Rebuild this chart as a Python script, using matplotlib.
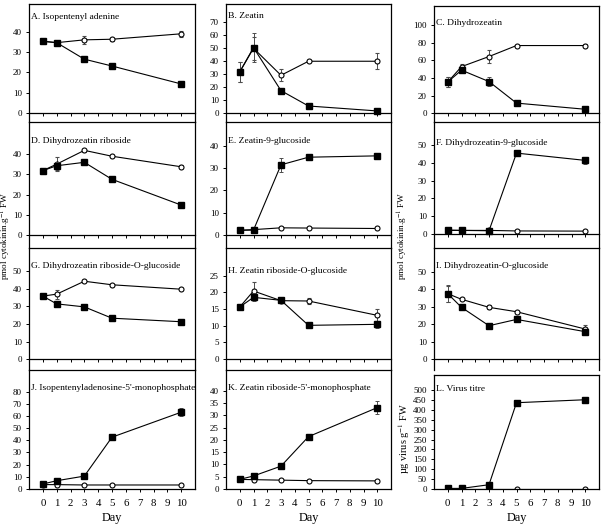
import matplotlib
matplotlib.use("Agg")
import matplotlib.pyplot as plt
import numpy as np

plt.rcParams['font.family'] = ['Liberation Serif', 'DejaVu Serif']
plt.rcParams['mathtext.fontset'] = 'stix'

# --- data (filled squares = infected, open circles = control) ---
days = [0, 1, 3, 5, 10]

a_inf = [35.5, 34.8, 26.6, 23.2, 14.3]
a_inf_err = [0.8, 0.8, 0.8, 1.2, 1.0]
a_ctl = [35.5, 34.8, 36.2, 36.5, 39.2]
a_ctl_err = [0.5, 1.0, 2.0, 0.8, 1.6]

b_inf = [31.8, 50.5, 17.4, 5.6, 1.8]
b_inf_err = [8.0, 11.0, 1.0, 1.8, 0.8]
b_ctl = [31.8, 50.0, 29.2, 40.0, 40.0]
b_ctl_err = [8.0, 9.0, 4.5, 0.8, 6.2]

c_inf = [35.5, 49.0, 36.0, 11.5, 4.5]
c_inf_err = [6.0, 3.0, 5.0, 1.0, 1.0]
c_ctl = [35.5, 53.0, 64.5, 77.0, 77.0]
c_ctl_err = [6.0, 3.0, 7.0, 1.0, 2.0]

d_inf = [31.8, 34.2, 35.9, 27.5, 14.8]
d_inf_err = [1.0, 2.0, 0.8, 0.8, 1.0]
d_ctl = [31.8, 35.0, 41.8, 38.9, 33.7]
d_ctl_err = [0.8, 3.5, 0.8, 0.6, 0.8]

e_inf = [2.2, 2.3, 31.4, 34.8, 35.4]
e_inf_err = [0.4, 0.4, 3.0, 0.6, 0.6]
e_ctl = [2.2, 2.5, 3.3, 3.2, 3.0]
e_ctl_err = [0.2, 0.2, 0.2, 0.2, 0.2]

f_inf = [2.2, 2.0, 1.8, 45.5, 41.4]
f_inf_err = [0.3, 0.3, 0.3, 0.8, 2.0]
f_ctl = [2.0, 2.0, 2.0, 1.7, 1.6]
f_ctl_err = [0.2, 0.2, 0.2, 0.2, 0.2]

g_inf = [35.8, 31.4, 29.7, 23.3, 21.3]
g_inf_err = [0.6, 0.8, 0.8, 0.8, 0.6]
g_ctl = [35.8, 36.9, 44.2, 42.2, 39.7]
g_ctl_err = [0.5, 2.5, 0.6, 0.6, 0.6]

h_inf = [15.6, 18.5, 17.6, 10.1, 10.4]
h_inf_err = [0.3, 1.2, 0.3, 0.6, 1.0]
h_ctl = [15.6, 20.4, 17.5, 17.4, 13.1]
h_ctl_err = [0.3, 2.8, 0.3, 0.9, 1.8]

i_inf = [37.5, 29.7, 19.2, 22.8, 15.8]
i_inf_err = [5.0, 1.0, 0.6, 0.6, 1.0]
i_ctl = [37.5, 34.3, 29.7, 27.2, 17.3]
i_ctl_err = [4.5, 0.6, 1.2, 0.6, 2.5]

j_inf = [4.1, 6.8, 10.6, 42.6, 63.1]
j_inf_err = [0.5, 0.6, 1.0, 2.5, 3.5]
j_ctl = [3.6, 3.6, 3.3, 3.3, 3.3]
j_ctl_err = [0.3, 0.3, 0.3, 0.3, 0.3]

k_inf = [3.9, 5.3, 9.3, 21.3, 33.1]
k_inf_err = [0.3, 0.5, 0.4, 0.5, 2.5]
k_ctl = [3.9, 3.8, 3.6, 3.4, 3.3]
k_ctl_err = [0.2, 0.2, 0.2, 0.2, 0.2]

l_inf = [3.0, 3.0, 21.6, 436.0, 451.0]
l_inf_err = [1.0, 1.0, 3.0, 6.0, 8.0]
l_ctl = [1.0, 1.0, 1.0, 1.0, 1.0]
l_ctl_err = [0.0, 0.0, 0.0, 0.0, 0.0]

titles = [
    "A. Isopentenyl adenine", "B. Zeatin", "C. Dihydrozeatin",
    "D. Dihydrozeatin riboside", "E. Zeatin-9-glucoside", "F. Dihydrozeatin-9-glucoside",
    "G. Dihydrozeatin riboside-O-glucoside", "H. Zeatin riboside-O-glucoside",
    "I. Dihydrozeatin-O-glucoside",
    "J. Isopentenyladenosine-5'-monophosphate", "K. Zeatin riboside-5'-monophosphate",
    "L. Virus titre",
]

# --- layout (pixel boxes on a 605x527 canvas) ---
W, H = 605, 527
cols = [(29, 195), (226, 391), (434, 599)]
rows = [(4, 122), (122, 248), (248, 370), (370, 489)]

# per panel: ylim, tick max, tick step, title height (axes fraction)
panel_fmt = [
    ((-4.6, 54), 40, 10, 0.89), ((-6.7, 84), 70, 10, 0.90), ((-10, 122), 100, 20, 0.85),
    ((-6.4, 55.8), 40, 10, 0.85), ((-5.7, 50.5), 40, 10, 0.85), ((-7.9, 63), 50, 10, 0.83),
    ((-6.0, 63), 50, 10, 0.85), ((-3.3, 33.3), 25, 5, 0.81), ((-6.1, 63.6), 50, 10, 0.85),
    ((0, 97.8), 80, 10, 0.85), ((0, 48.4), 40, 5, 0.85), ((0, 576), 500, 50, 0.88),
]

series = [
    (a_inf, a_inf_err, a_ctl, a_ctl_err), (b_inf, b_inf_err, b_ctl, b_ctl_err),
    (c_inf, c_inf_err, c_ctl, c_ctl_err), (d_inf, d_inf_err, d_ctl, d_ctl_err),
    (e_inf, e_inf_err, e_ctl, e_ctl_err), (f_inf, f_inf_err, f_ctl, f_ctl_err),
    (g_inf, g_inf_err, g_ctl, g_ctl_err), (h_inf, h_inf_err, h_ctl, h_ctl_err),
    (i_inf, i_inf_err, i_ctl, i_ctl_err), (j_inf, j_inf_err, j_ctl, j_ctl_err),
    (k_inf, k_inf_err, k_ctl, k_ctl_err), (l_inf, l_inf_err, l_ctl, l_ctl_err),
]

fig = plt.figure(figsize=(W / 100, H / 100), dpi=100)

for idx, (title, fmt, (inf, inf_err, ctl, ctl_err)) in enumerate(zip(titles, panel_fmt, series)):
    r, c = divmod(idx, 3)
    left, right = cols[c]
    top, bottom = rows[r]
    if c == 2 and r == 0:
        top = 6
    if c == 2 and r == 3:
        top = 375
    ax = fig.add_axes([left / W, 1 - bottom / H, (right - left) / W, (bottom - top) / H])

    ax.errorbar(days, ctl, yerr=ctl_err, color='black', ecolor='0.3', elinewidth=0.7,
                capsize=1.5, capthick=0.7, lw=0.8, marker='o', ms=3.6,
                mfc='white', mec='black', mew=0.8, zorder=2)
    ax.errorbar(days, inf, yerr=inf_err, color='black', ecolor='0.3', elinewidth=0.7,
                capsize=1.5, capthick=0.7, lw=0.8, marker='s', ms=4.2,
                mfc='black', mec='black', zorder=3)

    ylim, ymax_tick, ystep, ty = fmt
    ax.set_xlim(-1, 11)
    ax.set_ylim(*ylim)
    ax.set_yticks(np.arange(0, ymax_tick + ystep / 2, ystep))
    ax.set_xticks(range(0, 11))
    for sp in ax.spines.values():
        sp.set_linewidth(0.9)
    ax.spines['bottom'].set_position(('data', 0))
    ax.tick_params(axis='both', direction='out', length=2.2, width=0.7, labelsize=6.5)
    ax.tick_params(axis='y', pad=3)
    ax.tick_params(axis='x', pad=5)
    if r < 3:
        ax.tick_params(axis='x', labelbottom=False)
    else:
        ax.tick_params(axis='x', labelsize=7.8)
        ax.set_xlabel("Day", fontsize=8.8, labelpad=3)

    ax.text(0.012, ty, title, transform=ax.transAxes, ha='left', va='center', fontsize=6.8)

ylab = r"pmol cytokinin.g$^{-1}$ FW"
fig.text(6.2 / W, 1 - 236 / H, ylab, rotation=90, ha='center', va='center', fontsize=6.6)
fig.text(403 / W, 1 - 236 / H, ylab, rotation=90, ha='center', va='center', fontsize=6.6)
fig.text(404 / W, 1 - 439 / H, "µg virus g$^{-1}$ FW", rotation=90,
         ha='center', va='center', fontsize=7.4)

fig.savefig("out.png", dpi=100)
plt.close(fig)
